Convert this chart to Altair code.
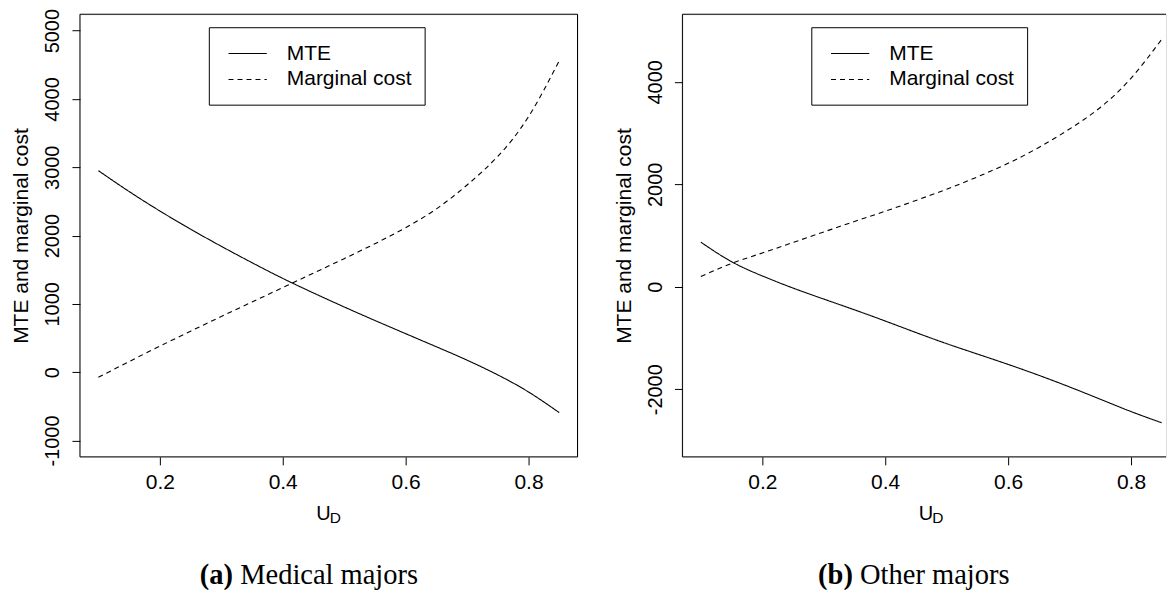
import altair as alt
import pandas as pd

# ---------------- data ----------------
u = [0.10, 0.15, 0.20, 0.25, 0.30, 0.35, 0.40, 0.45,
     0.50, 0.55, 0.60, 0.65, 0.70, 0.75, 0.80, 0.85]

med_mte = [2950, 2645, 2360, 2094, 1843, 1603, 1373, 1160,
           955, 757, 564, 372, 176, -40, -290, -592]
med_mc = [-75, 155, 380, 600, 815, 1027, 1238, 1450,
          1662, 1880, 2115, 2390, 2740, 3160, 3740, 4560]

oth_mte = [870, 490, 212, -25, -240, -450, -668, -893,
           -1110, -1313, -1515, -1728, -1955, -2195, -2435, -2655]
oth_mc = [200, 455, 660, 865, 1070, 1275, 1475, 1685,
          1905, 2145, 2410, 2720, 3080, 3500, 4070, 4830]

series_names = ["MTE", "Marginal cost"]
x_ticks = [0.2, 0.4, 0.6, 0.8]
med_y_ticks = [-1000, 0, 1000, 2000, 3000, 4000, 5000]
oth_y_ticks = [-2000, 0, 2000, 4000]
y_title = "MTE and marginal cost"
captions = [("(a)", "Medical majors"), ("(b)", "Other majors")]

# ---------------- style ----------------
H = 443
SANS = "Liberation Sans"
SERIF = "Liberation Serif"
FS = 21
DASH = [5, 4]
PX_PER_U = 615.0  # pixels per unit of U_D


def panel(mte, mc, ydom, yticks, cap, cap_x, name_x, width, full_box):
    n = len(u)
    x_hi = 0.07 + width / PX_PER_U
    df = pd.DataFrame({
        "u": u * 2,
        "value": mte + mc,
        "series": [series_names[0]] * n + [series_names[1]] * n,
    })
    x = alt.X("u:Q",
              scale=alt.Scale(domain=[0.07, x_hi], nice=False, zero=False),
              axis=alt.Axis(values=x_ticks, title=None, grid=False, domain=False,
                            labelExpr="format(datum.value, '.1f')",
                            labelFont=SANS, labelFontSize=FS, labelColor="black",
                            labelBaseline="top", labelPadding=7, labelFlush=False,
                            labelOverlap=False,
                            tickColor="black", tickSize=8))
    y = alt.Y("value:Q",
              scale=alt.Scale(domain=ydom, nice=False, zero=False),
              axis=alt.Axis(values=yticks, grid=False, domain=False,
                            labelExpr="'' + datum.value",
                            labelFont=SANS, labelFontSize=20, labelColor="black",
                            labelAngle=270, labelAlign="center",
                            labelBaseline="alphabetic", labelPadding=13,
                            labelFlush=False, labelOverlap=False,
                            tickColor="black", tickSize=8,
                            title=y_title, titleFont=SANS, titleFontSize=FS,
                            titleFontWeight="normal", titleColor="black",
                            titleAngle=270, titleAlign="center",
                            titleBaseline="alphabetic", titleX=-52, titleY=H / 2))
    lines = alt.Chart(df).mark_line(color="black", strokeWidth=1.1,
                                    interpolate="natural").encode(
        x=x, y=y,
        strokeDash=alt.StrokeDash("series:N",
                                  scale=alt.Scale(domain=series_names,
                                                  range=[[1, 0], DASH]),
                                  legend=None),
        detail="series:N",
    )

    one = pd.DataFrame({"k": [0]})
    layers = [lines]
    # plot frame
    if full_box:
        layers.append(alt.Chart(one).mark_rect(fill="white", fillOpacity=0,
                                               stroke="black", strokeWidth=1).encode(
            x=alt.value(0), x2=alt.value(width), y=alt.value(0), y2=alt.value(H)))
    else:
        for yy in (0, H):
            layers.append(alt.Chart(one).mark_rule(color="black", strokeWidth=1).encode(
                x=alt.value(0), x2=alt.value(width), y=alt.value(yy)))
        layers.append(alt.Chart(one).mark_rule(color="black", strokeWidth=1).encode(
            x=alt.value(0), y=alt.value(0), y2=alt.value(H)))
    # legend box
    layers.append(alt.Chart(one).mark_rect(fill="white", stroke="black",
                                           strokeWidth=1).encode(
        x=alt.value(129.5), x2=alt.value(345.5),
        y=alt.value(13.5), y2=alt.value(91)))
    for i, nm in enumerate(series_names):
        yy = 39.3 + 26 * i
        rule_kw = {"strokeDash": DASH} if i == 1 else {}
        layers.append(alt.Chart(one).mark_rule(color="black", strokeWidth=1.1,
                                               **rule_kw).encode(
            x=alt.value(148.7), x2=alt.value(187), y=alt.value(yy)))
        layers.append(alt.Chart(pd.DataFrame({"name": [nm]})).mark_text(
            align="left", baseline="middle", font=SANS, fontSize=FS,
            color="black").encode(
            x=alt.value(207), y=alt.value(yy), text="name:N"))
    # x-axis title U_D
    layers.append(alt.Chart(pd.DataFrame({"t": ["U"]})).mark_text(
        align="left", baseline="alphabetic", font=SANS, fontSize=20,
        color="black").encode(x=alt.value(236.5), y=alt.value(506), text="t:N"))
    layers.append(alt.Chart(pd.DataFrame({"t": ["D"]})).mark_text(
        align="left", baseline="alphabetic", font=SANS, fontSize=15.5,
        color="black").encode(x=alt.value(250), y=alt.value(509), text="t:N"))
    # caption
    layers.append(alt.Chart(pd.DataFrame({"t": [cap[0]]})).mark_text(
        align="left", baseline="alphabetic", font=SERIF, fontSize=28.5,
        fontWeight="bold", color="black").encode(
        x=alt.value(cap_x), y=alt.value(570), text="t:N"))
    layers.append(alt.Chart(pd.DataFrame({"t": [cap[1]]})).mark_text(
        align="left", baseline="alphabetic", font=SERIF, fontSize=28.5,
        color="black").encode(
        x=alt.value(name_x), y=alt.value(570), text="t:N"))

    return alt.layer(*layers).properties(width=width, height=H)


left = panel(med_mte, med_mc, [-1240, 5240], med_y_ticks, captions[0],
             120, 160.4, 498, True)
right = panel(oth_mte, oth_mc, [-3320, 5320], oth_y_ticks, captions[1],
              135.8, 177.8, 484, False)

chart = alt.hconcat(left, right, spacing=34).properties(
    padding={"left": 2, "top": -1, "right": 0, "bottom": 0}
).configure_view(stroke=None).configure(background="white")

chart.save("out.html", embed_options={"renderer": "svg", "actions": False})
